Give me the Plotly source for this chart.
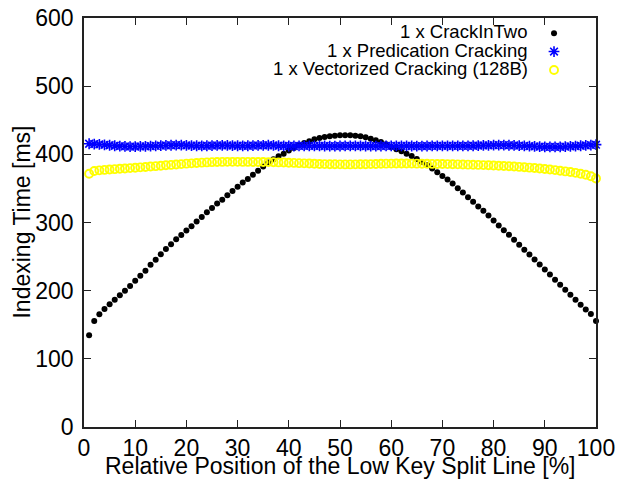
import plotly.graph_objects as go

# ---- data ----
positions = list(range(1, 101))  # relative position of the low key split line [%]

crack_in_two = [
    134.5, 155.5, 165.3, 173.1, 180.0, 186.8, 193.2, 200.0, 206.9, 214.7,
    222.0, 229.4, 238.2, 245.5, 253.4, 261.2, 268.0, 275.3, 281.7, 288.1,
    294.4, 301.3, 308.1, 315.0, 321.3, 327.7, 333.5, 339.9, 346.2, 352.6,
    358.5, 363.8, 370.2, 376.1, 382.0, 387.9, 392.7, 397.1, 401.0, 405.5,
    409.3, 413.2, 416.6, 419.1, 422.0, 424.0, 425.4, 426.4, 427.4, 427.9,
    427.9, 427.9, 427.4, 426.4, 424.9, 423.0, 420.5, 418.1, 414.7, 410.8,
    407.4, 404.5, 401.0, 397.6, 393.2, 388.8, 384.4, 379.1, 373.7, 368.3,
    363.0, 357.1, 350.3, 343.9, 337.1, 330.3, 323.4, 317.1, 310.2, 302.9,
    295.6, 288.7, 281.9, 274.6, 267.2, 259.9, 253.1, 245.8, 238.4, 231.1,
    223.8, 215.9, 208.6, 201.3, 194.0, 186.6, 179.3, 172.5, 165.6, 155.4,
]

predication = [
    415.5, 415.0, 414.5, 414.0, 413.3, 412.6, 412.0, 411.6, 411.4, 411.4,
    411.6, 411.8, 412.1, 412.4, 412.7, 413.0, 413.3, 413.5, 413.4, 413.1,
    412.8, 412.6, 412.5, 412.6, 412.8, 413.0, 413.1, 413.0, 412.8, 412.6,
    412.5, 412.6, 412.8, 413.0, 413.2, 413.3, 413.1, 412.6, 412.3, 412.2,
    412.2, 412.3, 412.4, 412.5, 412.4, 412.3, 412.2, 412.1, 412.1, 412.2,
    412.3, 412.4, 412.4, 412.3, 412.2, 412.1, 412.1, 412.2, 412.3, 412.4,
    412.5, 412.4, 412.3, 412.2, 412.1, 412.1, 412.2, 412.3, 412.4, 412.5,
    412.5, 412.4, 412.3, 412.3, 412.4, 412.6, 412.8, 413.0, 413.2, 413.4,
    413.5, 413.5, 413.3, 413.0, 412.7, 412.4, 412.0, 411.6, 411.2, 410.9,
    410.8, 410.8, 411.0, 411.3, 411.7, 412.1, 412.6, 413.1, 413.6, 414.2,
]

vectorized = [
    371.5, 375.5, 376.5, 377.2, 377.8, 378.3, 378.8, 379.3, 379.8, 380.3,
    380.9, 381.5, 382.1, 382.7, 383.3, 383.9, 384.5, 385.1, 385.7, 386.3,
    386.8, 387.3, 387.8, 388.2, 388.5, 388.7, 388.9, 389.0, 389.0, 389.0,
    388.9, 388.9, 388.8, 388.8, 388.7, 388.6, 388.4, 388.2, 388.0, 387.7,
    387.4, 387.1, 386.8, 386.5, 386.2, 385.9, 385.7, 385.5, 385.4, 385.3,
    385.2, 385.2, 385.3, 385.4, 385.5, 385.7, 385.9, 386.1, 386.3, 386.4,
    386.5, 386.5, 386.5, 386.4, 386.3, 386.2, 386.1, 386.0, 385.9, 385.8,
    385.7, 385.5, 385.3, 385.1, 384.9, 384.7, 384.5, 384.2, 383.9, 383.6,
    383.3, 382.9, 382.5, 382.1, 381.6, 381.1, 380.5, 379.9, 379.2, 378.5,
    377.7, 376.9, 376.0, 375.0, 374.0, 372.8, 371.5, 370.0, 367.8, 364.5,
]

series_names = [
    "1 x CrackInTwo",
    "1 x Predication Cracking",
    "1 x Vectorized Cracking (128B)",
]

x_title = "Relative Position of the Low Key Split Line [%]"
y_title = "Indexing Time [ms]"

x_ticks = list(range(0, 101, 10))
y_ticks = list(range(0, 601, 100))

FONT = "Liberation Sans, Arial, sans-serif"
AXIS_COLOR = "#222222"
TICK_SIZE = 23
KEY_SIZE = 18.5

styles = [
    dict(symbol="circle", size=6, color="black", line=dict(width=0)),
    dict(symbol="asterisk-open", size=9, color="blue", line=dict(width=1.6, color="blue")),
    dict(symbol="circle-open", size=8, color="#ffff00", line=dict(width=1.9, color="#ffff00")),
]

fig = go.Figure()
for name, vals, st in zip(series_names, [crack_in_two, predication, vectorized], styles):
    fig.add_trace(go.Scatter(
        x=positions, y=vals, mode="markers", name=name,
        marker=st, showlegend=False, cliponaxis=False,
    ))

# gnuplot-style key: text right-aligned, symbol to the right of it
key_rows = [0.966, 0.921, 0.876]
for name, st, ky in zip(series_names, styles, key_rows):
    fig.add_trace(go.Scatter(
        x=[0.918], y=[ky - 0.003], mode="markers", marker=st,
        xaxis="x2", yaxis="y2", showlegend=False, hoverinfo="skip",
    ))
    fig.add_annotation(
        x=0.869, y=ky, xref="x2", yref="y2", text=name, showarrow=False,
        xanchor="right", yanchor="middle", borderpad=0,
        font=dict(family=FONT, size=KEY_SIZE, color="black"),
    )

# axis titles as paper-anchored text
fig.add_annotation(
    x=0.5, y=-0.095, xref="paper", yref="paper", text=x_title, showarrow=False,
    xanchor="center", yanchor="middle",
    font=dict(family=FONT, size=TICK_SIZE, color="black"),
)
fig.add_annotation(
    x=-0.123, y=0.5, xref="paper", yref="paper", text=y_title, showarrow=False,
    xanchor="center", yanchor="middle", textangle=-90,
    font=dict(family=FONT, size=TICK_SIZE, color="black"),
)

axis_common = dict(
    showgrid=False, zeroline=False, showline=True, linecolor=AXIS_COLOR,
    linewidth=1.5, mirror="ticks", ticks="inside", ticklen=7,
    tickwidth=1.2, tickcolor=AXIS_COLOR, automargin=False,
    tickfont=dict(family=FONT, size=TICK_SIZE, color="black"),
)

fig.update_layout(
    width=619, height=481,
    margin=dict(l=84, r=23, t=18, b=54, autoexpand=False),
    paper_bgcolor="white", plot_bgcolor="white",
    font=dict(family=FONT, size=TICK_SIZE, color="black"),
    xaxis=dict(range=[0, 100], tickvals=x_ticks, ticklabelstandoff=0, **axis_common),
    yaxis=dict(range=[0, 600], tickvals=y_ticks, ticklabelstandoff=4, **axis_common),
    xaxis2=dict(overlaying="x", range=[0, 1], visible=False),
    yaxis2=dict(overlaying="y", range=[0, 1], visible=False),
    showlegend=False,
)

fig.write_html("out.html")
